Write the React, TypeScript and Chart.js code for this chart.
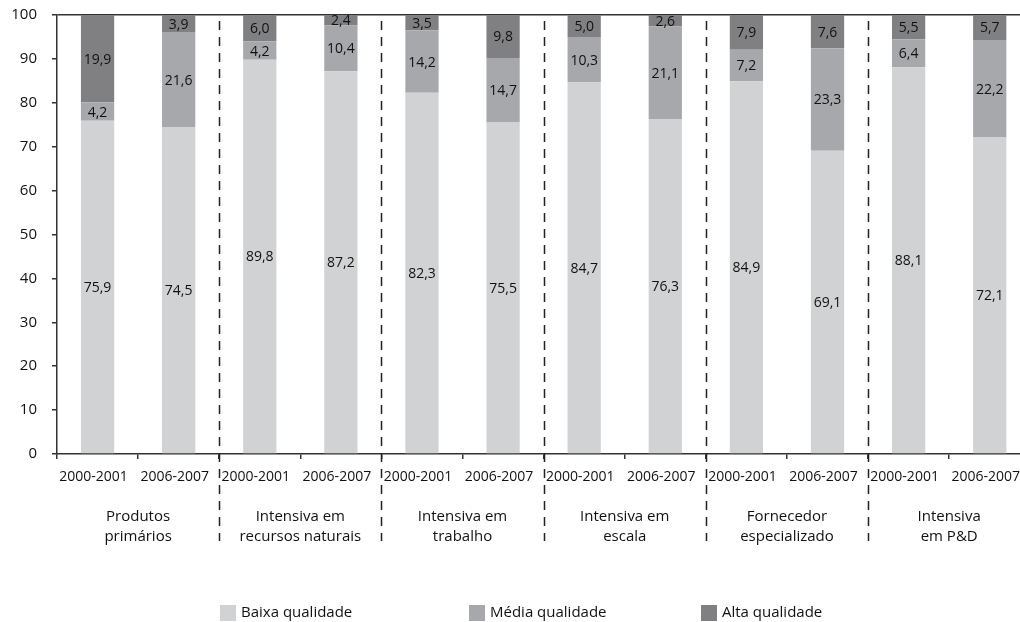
import React, { useEffect, useRef } from "react";
import { Chart, registerables } from "chart.js";

Chart.register(...registerables);

const periods = [
  "2000-2001", "2006-2007", "2000-2001", "2006-2007", "2000-2001", "2006-2007",
  "2000-2001", "2006-2007", "2000-2001", "2006-2007", "2000-2001", "2006-2007",
];
const groups = [
  ["Produtos", "primários"],
  ["Intensiva em", "recursos naturais"],
  ["Intensiva em", "trabalho"],
  ["Intensiva em", "escala"],
  ["Fornecedor", "especializado"],
  ["Intensiva", "em P&D"],
];
const baixa = [75.9, 74.5, 89.8, 87.2, 82.3, 75.5, 84.7, 76.3, 84.9, 69.1, 88.1, 72.1];
const media = [4.2, 21.6, 4.2, 10.4, 14.2, 14.7, 10.3, 21.1, 7.2, 23.3, 6.4, 22.2];
const alta = [19.9, 3.9, 6.0, 2.4, 3.5, 9.8, 5.0, 2.6, 7.9, 7.6, 5.5, 5.7];
const seriesNames = ["Baixa qualidade", "Média qualidade", "Alta qualidade"];
const yTicks = [0, 10, 20, 30, 40, 50, 60, 70, 80, 90, 100];

const COLORS = ["#d1d2d4", "#a7a8ab", "#808083"];
const FONT = "'Open Sans', 'Noto Sans', sans-serif";
const TEXT = "#111111";
const AXIS = "#333333";
const LEGEND_X = [220, 469, 701];

const fmt = (v: number) => v.toFixed(1).replace(".", ",");

const dataLabelPlugin = {
  id: "dataLabels",
  afterDatasetsDraw(chart: any) {
    const ctx = chart.ctx;
    ctx.save();
    ctx.font = `500 14px ${FONT}`;
    ctx.fillStyle = TEXT;
    ctx.textAlign = "center";
    ctx.textBaseline = "middle";
    chart.data.datasets.forEach((ds: any, di: number) => {
      const meta = chart.getDatasetMeta(di);
      meta.data.forEach((bar: any, i: number) => {
        const top = Math.min(bar.y, bar.base);
        const bottom = Math.max(bar.y, bar.base);
        ctx.fillText(fmt(ds.data[i]), bar.x, (top + bottom) / 2 + 1);
      });
    });
    ctx.restore();
  },
};

const separatorPlugin = {
  id: "separators",
  afterDraw(chart: any) {
    const ctx = chart.ctx;
    const xs = chart.scales.x;
    ctx.save();
    ctx.strokeStyle = "#222";
    ctx.lineWidth = 1.5;
    ctx.setLineDash([9, 7]);
    for (let i = 1; i < periods.length / 2; i++) {
      const x = Math.round((xs.getPixelForValue(2 * i - 1) + xs.getPixelForValue(2 * i)) / 2) + 0.5;
      ctx.beginPath();
      ctx.moveTo(x, 21);
      ctx.lineTo(x, 541);
      ctx.stroke();
    }
    ctx.restore();
  },
};

const legendPlugin = {
  id: "customLegend",
  afterDraw(chart: any) {
    const ctx = chart.ctx;
    ctx.save();
    ctx.font = `500 15px ${FONT}`;
    ctx.textBaseline = "middle";
    ctx.textAlign = "left";
    seriesNames.forEach((name, i) => {
      const x = LEGEND_X[i];
      ctx.fillStyle = COLORS[i];
      ctx.fillRect(x, 605, 16, 16);
      ctx.fillStyle = TEXT;
      ctx.fillText(name, x + 21, 613);
    });
    ctx.restore();
  },
};

export default function App() {
  const ref = useRef<HTMLCanvasElement | null>(null);
  useEffect(() => {
    if (!ref.current) return;
    const chart = new Chart(ref.current, {
      type: "bar",
      data: {
        labels: periods,
        datasets: [
          { label: seriesNames[0], data: baixa, backgroundColor: COLORS[0] },
          { label: seriesNames[1], data: media, backgroundColor: COLORS[1] },
          { label: seriesNames[2], data: alta, backgroundColor: COLORS[2] },
        ],
      },
      options: {
        responsive: false,
        animation: false,
        devicePixelRatio: 1,
        datasets: { bar: { categoryPercentage: 1, barPercentage: 0.41 } },
        layout: { padding: { top: 15, right: 0, bottom: 74, left: 0 } },
        plugins: { legend: { display: false }, tooltip: { enabled: false } },
        scales: {
          x: {
            stacked: true,
            weight: 0,
            grid: { display: true, drawOnChartArea: false, offset: true, tickLength: 5, tickColor: AXIS, lineWidth: 1.5 },
            border: { display: true, color: AXIS, width: 1.5 },
            ticks: { color: TEXT, font: { family: FONT, size: 14, weight: "500" }, padding: 10, maxRotation: 0, autoSkip: false, labelOffset: -4 },
            afterFit: (s: any) => { s.height = 32; },
          },
          x2: {
            type: "category",
            position: "bottom",
            weight: 1,
            labels: groups as any,
            offset: true,
            grid: { display: false, drawTicks: false },
            border: { display: false },
            ticks: { color: TEXT, font: { family: FONT, size: 15, weight: "500", lineHeight: 1.3 }, padding: 21, maxRotation: 0, autoSkip: false },
            afterFit: (s: any) => { s.height = 62; },
          },
          y: {
            stacked: true,
            min: 0,
            max: 100,
            afterBuildTicks: (s: any) => { s.ticks = yTicks.map((v) => ({ value: v })); },
            grid: {
              color: (c: any) => (c.tick && c.tick.value === 100 ? AXIS : "rgba(0,0,0,0)"),
              tickColor: AXIS,
              tickLength: 5,
              lineWidth: 1.5,
            },
            border: { display: true, color: AXIS, width: 1.5 },
            ticks: { color: TEXT, font: { family: FONT, size: 15, weight: "500" }, padding: 15 },
            afterFit: (s: any) => { s.width = 57; s.paddingTop = 0; s.paddingBottom = 0; },
          },
        },
      },
      plugins: [dataLabelPlugin, separatorPlugin, legendPlugin],
    });
    return () => chart.destroy();
  }, []);
  return (
    <div style={{ position: "fixed", left: 0, top: 0, width: 1020, height: 622, overflow: "hidden", background: "#fff" }}>
      <canvas ref={ref} width={1034} height={622} style={{ display: "block" }} />
    </div>
  );
}
